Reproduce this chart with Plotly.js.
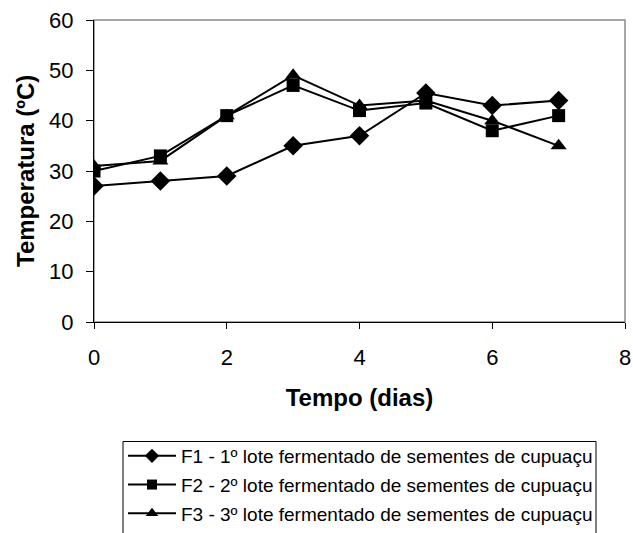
<!DOCTYPE html>
<html>
<head>
<meta charset="utf-8">
<script src="https://cdn.plot.ly/plotly-3.0.1.min.js"></script>
<style>html,body{margin:0;padding:0;background:#fff;}#chart{width:633px;height:533px;}</style>
</head>
<body>
<div id="chart"></div>
<script>
const days = [0, 1, 2, 3, 4, 5, 6, 7];
const f1 = [27, 28, 29, 35, 37, 45.5, 43, 44];
const f2 = [30, 33, 41, 47, 42, 43.5, 38, 41];
const f3 = [31, 32, 41, 49, 43, 44, 40, 35];
const seriesNames = [
  'F1 - 1º lote fermentado de sementes de cupuaçu',
  'F2 - 2º lote fermentado de sementes de cupuaçu',
  'F3 - 3º lote fermentado de sementes de cupuaçu'
];
const xTicks = [0, 2, 4, 6, 8];
const yTicks = [0, 10, 20, 30, 40, 50, 60];
const xTitle = 'Tempo (dias)';
const yTitle = 'Temperatura (ºC)';

const symbols = ['diamond', 'square', 'triangle-up'];
const plotSizes = [15, 13, 14];
const legendSizes = [11, 10, 11];
const allY = [f1, f2, f3];

const traces = [];
allY.forEach((ys, i) => {
  traces.push({
    x: days, y: ys, type: 'scatter', mode: 'lines+markers',
    name: seriesNames[i], showlegend: false,
    line: {color: '#000', width: 2},
    marker: {symbol: symbols[i], size: plotSizes[i], color: '#000'}
  });
});
allY.forEach((ys, i) => {
  traces.push({
    x: [null], y: [null], type: 'scatter', mode: 'lines+markers',
    name: seriesNames[i], showlegend: true, legendgroup: 'g' + i,
    line: {color: '#000', width: 2},
    marker: {symbol: symbols[i], size: legendSizes[i], color: '#000'}
  });
});

const font = 'Arial, "Liberation Sans", sans-serif';
const L = 94, R = 625, T = 20, B = 322;
const px2x = p => (p - L) / (R - L);
const px2y = p => (B - p) / (B - T);

const layout = {
  width: 633, height: 533,
  paper_bgcolor: '#fff', plot_bgcolor: '#fff',
  margin: {l: L, r: 633 - R, t: T, b: 533 - B, autoexpand: false},
  font: {family: font, color: '#000', size: 22},
  showlegend: true,
  xaxis: {
    range: [0, 8], tickvals: xTicks, ticktext: xTicks.map(String),
    showgrid: false, zeroline: false,
    showline: true, linecolor: '#000', linewidth: 1,
    ticks: 'outside', ticklen: 6, tickcolor: '#000',
    tickfont: {size: 22}, ticklabelstandoff: 10,
    title: {text: '<b>' + xTitle + '</b>', font: {size: 24}, standoff: 19}
  },
  yaxis: {
    range: [0, 60], tickvals: yTicks, ticktext: yTicks.map(String),
    showgrid: false, zeroline: false,
    showline: true, linecolor: '#000', linewidth: 1,
    ticks: 'outside', ticklen: 7, tickcolor: '#000',
    tickfont: {size: 22}, ticklabelstandoff: 8
  },
  annotations: [{
    text: '<b>' + yTitle + '</b>', textangle: -90,
    xref: 'paper', yref: 'paper', x: px2x(25), y: 0.5,
    xanchor: 'center', yanchor: 'middle', showarrow: false,
    font: {size: 24, family: font, color: '#000'}
  }],
  shapes: [
    {type: 'rect', xref: 'paper', yref: 'paper', x0: 0, x1: 1, y0: 0, y1: 1,
     line: {color: '#888', width: 1.5}, layer: 'below'},
    {type: 'rect', xref: 'paper', yref: 'paper',
     x0: px2x(123), x1: px2x(596), y0: px2y(545), y1: px2y(441.5),
     line: {color: '#000', width: 1}, fillcolor: 'rgba(0,0,0,0)', layer: 'above'}
  ],
  legend: {
    xref: 'container', yref: 'container',
    x: 123 / 633, y: 1 - 437 / 533, xanchor: 'left', yanchor: 'top',
    borderwidth: 0, bgcolor: 'rgba(0,0,0,0)',
    font: {size: 19}, tracegroupgap: 1, itemwidth: 48
  }
};

Plotly.newPlot('chart', traces, layout, {displayModeBar: false, staticPlot: true});
</script>
</body>
</html>
